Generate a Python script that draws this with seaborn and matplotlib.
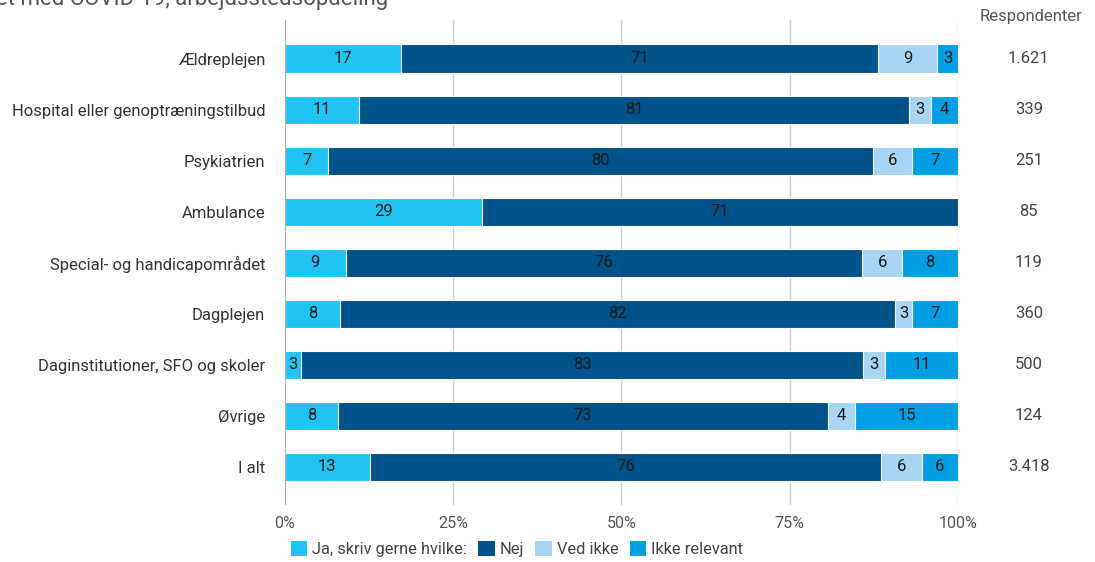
import numpy as np
import pandas as pd
import matplotlib
matplotlib.use('Agg')
import matplotlib.pyplot as plt
import seaborn as sns
from matplotlib.patches import Patch

# data (percent of respondents)
categories = ['Ældreplejen', 'Hospital eller genoptræningstilbud', 'Psykiatrien', 'Ambulance',
              'Special- og handicapområdet', 'Dagplejen', 'Daginstitutioner, SFO og skoler',
              'Øvrige', 'I alt']
ja = [17.2, 11.1, 6.5, 29.3, 9.1, 8.2, 2.4, 7.9, 12.6]
nej = [70.9, 81.6, 80.8, 70.7, 76.7, 82.5, 83.5, 72.8, 76.0]
ved_ikke = [8.8, 3.3, 5.9, 0, 5.9, 2.4, 3.3, 4.0, 6.0]
ikke_relevant = [3.1, 4.0, 6.8, 0, 8.3, 6.9, 10.8, 15.3, 5.4]
labels_ja = [17, 11, 7, 29, 9, 8, 3, 8, 13]
labels_nej = [71, 81, 80, 71, 76, 82, 83, 73, 76]
labels_ved = [9, 3, 6, None, 6, 3, 3, 4, 6]
labels_ikke = [3, 4, 7, None, 8, 7, 11, 15, 6]
respondenter = ['1.621', '339', '251', '85', '119', '360', '500', '124', '3.418']

series = ['Ja, skriv gerne hvilke:', 'Nej', 'Ved ikke', 'Ikke relevant']
colors = ['#20c4f4', '#00528a', '#a9d5f5', '#009fe3']

sns.set_theme(style='white')
plt.rcParams['font.family'] = ['Roboto', 'DejaVu Sans']

df = pd.DataFrame({'cat': categories, 'ja': ja, 'nej': nej, 'ved': ved_ikke, 'ikke': ikke_relevant})
cols = ['ja', 'nej', 'ved', 'ikke']
cum = df[cols].cumsum(axis=1)

fig = plt.figure(figsize=(10.95, 5.62), dpi=100)
ax = fig.add_axes([0.260, 0.101, 0.615, 0.863])

# stacked bars: draw cumulative totals from the back
for col, color in list(zip(cols, colors))[::-1]:
    sns.barplot(x=cum[col], y=df['cat'], color=color, width=0.55, ax=ax,
                saturation=1, edgecolor='white', linewidth=0.8, zorder=3)

# labels in segments + respondent counts
txt = '#1a1a1a'
for i in range(len(categories)):
    for col, labs in zip(cols, [labels_ja, labels_nej, labels_ved, labels_ikke]):
        if labs[i] is None:
            continue
        val = df.loc[i, col]
        mid = cum.loc[i, col] - val / 2
        ax.text(mid, i, str(labs[i]), ha='center', va='center', fontsize=12, color=txt, zorder=5)
    ax.text(1.105, i, respondenter[i], transform=ax.get_yaxis_transform(), ha='center',
            va='center', fontsize=12, color='#444444')
fig.text(1031 / 1095, 1 - 17 / 562, 'Respondenter', ha='center', va='center',
         fontsize=12, color='#555555')

ax.set_ylim(8.75, -0.75)
ax.set_xlim(0, 100)
ax.set_xticks([0, 25, 50, 75, 100])
ax.set_xticklabels(['0%', '25%', '50%', '75%', '100%'], fontsize=11.5, color='#555555')
ax.tick_params(axis='y', labelsize=12, labelcolor='#333333', length=0, pad=14)
ax.tick_params(axis='x', length=0, pad=8)
ax.set_xlabel('')
ax.set_ylabel('')
for g in [25, 50, 75, 100]:
    ax.axvline(g, color='#cccccc', linewidth=1, zorder=1)
ax.axvline(0, color='#999999', linewidth=1.2, zorder=4)
for s in ax.spines.values():
    s.set_visible(False)

# legend
handles = [Patch(facecolor=c, edgecolor='none') for c in colors]
fig.legend(handles, series, loc='lower left', bbox_to_anchor=(0.252, -0.018), ncol=4, frameon=False,
           fontsize=11.8, handlelength=1.0, handleheight=1.0, handletextpad=0.3, columnspacing=0.7,
           labelcolor='#444444')

# title, cut off by the top edge as in the reference
fig.text(0.354, 1 - 5 / 562, 'smittet med COVID-19, arbejdsstedsopdeling', ha='right', va='baseline',
         fontsize=16, color='#555555')

fig.savefig('out.png', dpi=100)
